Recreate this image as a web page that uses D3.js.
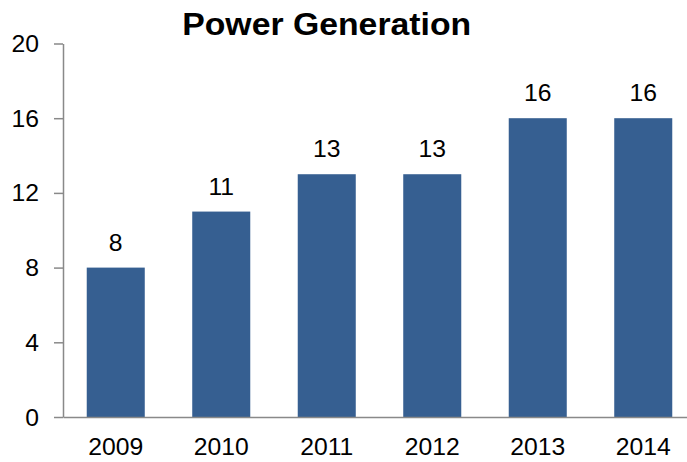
<!DOCTYPE html>
<html><head><meta charset="utf-8">
<script src="https://cdn.jsdelivr.net/npm/d3@7"></script>
<style>body{margin:0;background:#fff}svg{display:block}text{font-family:"Liberation Sans",Arial,sans-serif;fill:#000}</style>
</head><body>
<svg id="c" width="687" height="462"></svg>
<script>
const title = "Power Generation";
const years = ["2009","2010","2011","2012","2013","2014"];
const values = [8, 11, 13, 13, 16, 16];
const yTicks = [0, 4, 8, 12, 16, 20];

const svg = d3.select("#c");
const x = d3.scaleBand().domain(years).range([63, 696]).paddingInner(0.45).paddingOuter(0.225);
const y = d3.scaleLinear().domain([0, 20]).range([417, 43.5]);
const sx = 1.03, fs = 24;

// bars
svg.selectAll("rect.bar").data(values).join("rect")
  .attr("class","bar")
  .attr("x",(d,i)=>x(years[i])).attr("width",x.bandwidth())
  .attr("y",d=>y(d)).attr("height",d=>y(0)-y(d))
  .attr("fill","#365F91");

// y axis
const ya = svg.append("g").attr("transform","translate(63,0)")
  .call(d3.axisLeft(y).tickValues(yTicks).tickSizeInner(9).tickSizeOuter(0).tickFormat(d3.format("d")));
ya.selectAll("path,line").attr("stroke","#898989").attr("stroke-width",1.5);
ya.selectAll("text").remove();
svg.selectAll("text.ytl").data(yTicks).join("text").attr("class","ytl")
  .attr("text-anchor","end").attr("font-size",fs)
  .attr("transform",d=>`translate(39,${y(d)+8.5}) scale(${sx},1)`)
  .text(d=>d);

// x axis
const xa = svg.append("g").attr("transform","translate(0,417)")
  .call(d3.axisBottom(x).tickSize(0).tickSizeOuter(0));
xa.selectAll("path").attr("stroke","#898989").attr("stroke-width",1.5);
xa.selectAll("text").remove();
svg.selectAll("text.xtl").data(years).join("text").attr("class","xtl")
  .attr("text-anchor","middle").attr("font-size",fs)
  .attr("transform",d=>`translate(${x(d)+x.bandwidth()/2},455) scale(${sx},1)`)
  .text(d=>d);

// data labels
svg.selectAll("text.dl").data(values).join("text").attr("class","dl")
  .attr("text-anchor","middle").attr("font-size",fs)
  .attr("transform",(d,i)=>`translate(${x(years[i])+x.bandwidth()/2},${y(d)-17}) scale(${sx},1)`)
  .text(d=>d);

// title
svg.append("text").attr("text-anchor","middle").attr("font-size",31).attr("font-weight","bold")
  .attr("transform","translate(326.7,35) scale(1.09,1)").text(title);
</script>
</body></html>
